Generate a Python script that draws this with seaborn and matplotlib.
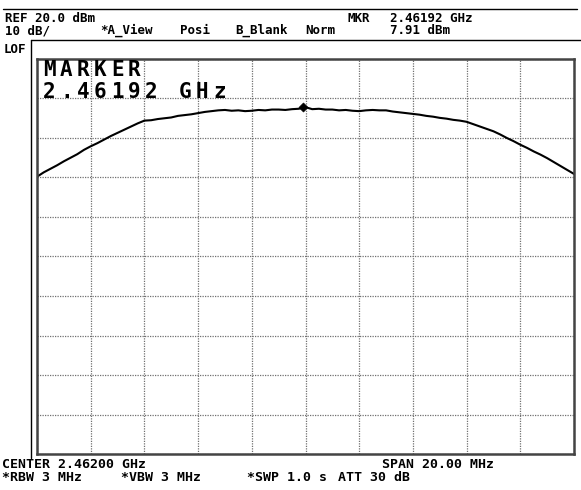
import numpy as np
import pandas as pd
import matplotlib
matplotlib.use("Agg")
import matplotlib.pyplot as plt
from matplotlib.lines import Line2D
import seaborn as sns

# trace levels (dBm), sweep 2.452 .. 2.472 GHz, 0.25 MHz steps
level = [-9.8, -8.7, -7.8, -6.9, -5.9, -5.0, -4.1, -3.0, -2.1, -1.3,
         -0.4, 0.5, 1.3, 2.1, 2.9, 3.7, 4.4, 4.5, 4.8, 5.0,
         5.2, 5.6, 5.8, 6.0, 6.3, 6.6, 6.8, 7.0, 7.1, 6.9,
         7.0, 6.8, 6.9, 7.1, 7.0, 7.2, 7.2, 7.1, 7.3, 7.4,
         7.8, 7.3, 7.4, 7.2, 7.2, 7.0, 7.1, 6.9, 6.8, 7.0,
         7.1, 7.0, 7.0, 6.7, 6.5, 6.3, 6.1, 5.9, 5.6, 5.4,
         5.1, 4.9, 4.6, 4.4, 4.1, 3.5, 2.9, 2.3, 1.7, 0.9,
         0.0, -0.8, -1.7, -2.5, -3.4, -4.2, -5.1, -6.1, -7.1, -8.1,
         -9.1]
freq = np.linspace(2.452, 2.472, len(level))

marker_freq = [2.46192]
marker_level = [7.91]

header1 = [(5, "REF 20.0 dBm"), (348, "MKR"), (390, "2.46192 GHz")]
header2 = [(5, "10 dB/"), (100, "*A_View"), (180, "Posi"), (235, "B_Blank"),
           (305, "Norm"), (390, "7.91 dBm")]
footer1 = [(2, "CENTER 2.46200 GHz"), (382, "SPAN 20.00 MHz")]
footer2 = [(2, "*RBW 3 MHz"), (121, "*VBW 3 MHz"), (247, "*SWP 1.0 s"), (338, "ATT 30 dB")]

df = pd.DataFrame({"freq": freq, "level": level})

sns.set_style("white")
plt.rcParams["font.family"] = ["DejaVu Sans Mono", "DejaVu Sans"]

W, H = 581, 490
fig = plt.figure(figsize=(W / 100, H / 100), dpi=100)
ax = fig.add_axes([37 / W, 1 - 454 / H, 537 / W, 395 / H])

sns.lineplot(data=df, x="freq", y="level", ax=ax, color="black", lw=1.5)
sns.scatterplot(x=marker_freq, y=marker_level, ax=ax, marker="D", s=22,
                color="black", edgecolor="black", zorder=5)

ax.set_xlim(2.452, 2.472)
ax.set_ylim(-80, 20)
ax.set_xticks(np.linspace(2.452, 2.472, 11))
ax.set_yticks(np.arange(-80, 21, 10))
ax.grid(True, color="#707070", ls=(0, (1, 1)), lw=0.9)
ax.tick_params(length=0, labelbottom=False, labelleft=False)
ax.set_xlabel("")
ax.set_ylabel("")
for sp in ax.spines.values():
    sp.set_color("#444444")
    sp.set_linewidth(1.8)


def px_text(x, y, s, size=9, weight="bold"):
    fig.text(x / W, 1 - y / H, s, fontsize=size, va="baseline", ha="left",
             color="black", fontweight=weight)


for x, s in header1:
    px_text(x, 21.5, s)
for x, s in header2:
    px_text(x, 34, s)
px_text(4, 53, "LOF")
for x, s in footer1:
    px_text(x, 468, s, size=9.5)
for x, s in footer2:
    px_text(x, 481, s, size=9.5)

# big marker readout, wide fixed pitch
for y, s in [(76, "MARKER"), (97.7, "2.46192 GHz")]:
    for i, ch in enumerate(s):
        px_text(43 + i * 17, y, ch, size=15, weight="bold")

# outer frame lines
fig.add_artist(Line2D([3 / W, 577 / W], [1 - 9 / H, 1 - 9 / H], color="black", lw=1))
fig.add_artist(Line2D([31 / W, 581 / W], [1 - 40 / H, 1 - 40 / H], color="black", lw=1))
fig.add_artist(Line2D([31 / W, 31 / W], [1 - 40 / H, 1 - 458 / H], color="black", lw=1))

fig.savefig("out.png", dpi=100)
